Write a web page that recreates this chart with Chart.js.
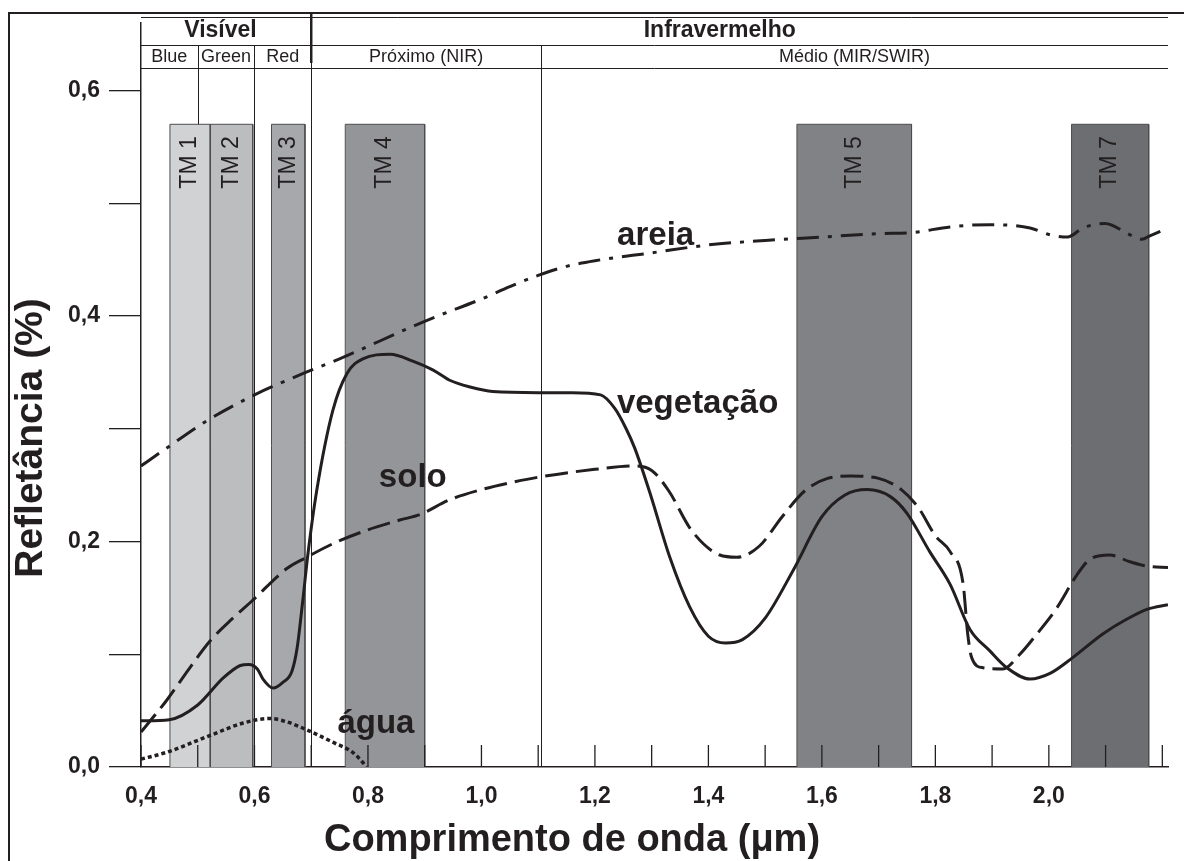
<!DOCTYPE html>
<html>
<head>
<meta charset="utf-8">
<script src="https://cdn.jsdelivr.net/npm/chart.js@4.4.1/dist/chart.umd.min.js"></script>
<style>
  html, body { margin: 0; padding: 0; background: #fff; }
  canvas { display: block; }
</style>
</head>
<body>
<canvas id="spectraCanvas" width="1184" height="861"></canvas>
<script>
// wavelength (um) / reflectance values
const vegX = [0.40, 0.45, 0.50, 0.545, 0.575, 0.59, 0.605, 0.615, 0.633, 0.65, 0.666, 0.675, 0.685, 0.694, 0.71, 0.738, 0.763, 0.791, 0.839, 0.879, 0.915, 0.944, 0.98, 1.02, 1.10, 1.16, 1.21, 1.235, 1.255, 1.27, 1.297, 1.332, 1.367, 1.40, 1.43, 1.46, 1.50, 1.55, 1.60, 1.64, 1.68, 1.72, 1.75, 1.79, 1.826, 1.861, 1.896, 1.926, 1.967, 2.002, 2.042, 2.095, 2.137, 2.174, 2.21];
const vegY = [0.041, 0.042, 0.055, 0.079, 0.090, 0.091, 0.087, 0.078, 0.070, 0.075, 0.085, 0.105, 0.147, 0.188, 0.246, 0.316, 0.349, 0.362, 0.366, 0.360, 0.352, 0.343, 0.337, 0.333, 0.332, 0.332, 0.330, 0.318, 0.300, 0.283, 0.243, 0.186, 0.142, 0.116, 0.110, 0.113, 0.132, 0.175, 0.222, 0.241, 0.246, 0.240, 0.225, 0.191, 0.162, 0.122, 0.103, 0.088, 0.078, 0.083, 0.097, 0.118, 0.131, 0.140, 0.144];

const soloX = [0.40, 0.445, 0.486, 0.522, 0.562, 0.595, 0.657, 0.692, 0.738, 0.798, 0.856, 0.892, 0.944, 1.00, 1.05, 1.10, 1.20, 1.27, 1.30, 1.33, 1.37, 1.42, 1.45, 1.49, 1.53, 1.57, 1.61, 1.65, 1.70, 1.74, 1.77, 1.80, 1.826, 1.849, 1.857, 1.864, 1.884, 1.919, 1.949, 1.979, 2.014, 2.049, 2.072, 2.107, 2.143, 2.174, 2.21];
const soloY = [0.031, 0.059, 0.088, 0.112, 0.132, 0.147, 0.176, 0.186, 0.198, 0.210, 0.219, 0.224, 0.237, 0.246, 0.252, 0.257, 0.264, 0.267, 0.263, 0.245, 0.210, 0.188, 0.186, 0.196, 0.222, 0.245, 0.256, 0.258, 0.256, 0.246, 0.230, 0.205, 0.191, 0.162, 0.118, 0.097, 0.088, 0.087, 0.100, 0.118, 0.141, 0.170, 0.184, 0.188, 0.182, 0.178, 0.177];

const areiaX = [0.40, 0.44, 0.516, 0.60, 0.686, 0.75, 0.88, 0.923, 1.00, 1.05, 1.10, 1.15, 1.20, 1.30, 1.40, 1.50, 1.60, 1.70, 1.76, 1.826, 1.896, 1.967, 2.002, 2.033, 2.06, 2.099, 2.143, 2.164, 2.178, 2.21];
const areiaY = [0.267, 0.281, 0.307, 0.330, 0.349, 0.362, 0.391, 0.400, 0.415, 0.426, 0.436, 0.444, 0.449, 0.456, 0.463, 0.467, 0.470, 0.473, 0.474, 0.479, 0.481, 0.478, 0.472, 0.470, 0.478, 0.482, 0.472, 0.468, 0.471, 0.478];

const aguaX = [0.40, 0.445, 0.522, 0.58, 0.627, 0.657, 0.692, 0.738, 0.773, 0.791, 0.797];
const aguaY = [0.007, 0.013, 0.028, 0.039, 0.043, 0.040, 0.033, 0.022, 0.013, 0.004, 0.0];

// Landsat TM bands
const tmNames = ['TM 1', 'TM 2', 'TM 3', 'TM 4', 'TM 5', 'TM 7'];
const tmStart = [0.451, 0.522, 0.63, 0.76, 1.556, 2.04];
const tmEnd = [0.522, 0.597, 0.689, 0.90, 1.758, 2.176];
const tmColors = ['#d1d2d4', '#bbbdbf', '#a6a8ab', '#939598', '#808285', '#6d6e71'];
const tmTop = 0.57;

// spectral regions in the header
const subNames = ['Blue', 'Green', 'Red', 'Próximo (NIR)', 'Médio (MIR/SWIR)'];
const subStart = [0.4, 0.5, 0.6, 0.7, 1.105];
const subEnd = [0.5, 0.6, 0.7, 1.105, 2.21];
const mainNames = ['Visível', 'Infravermelho'];
const mainCenter = [0.54, 1.42];

const xTickValues = [0.4, 0.5, 0.6, 0.7, 0.8, 0.9, 1.0, 1.1, 1.2, 1.3, 1.4, 1.5, 1.6, 1.7, 1.8, 1.9, 2.0, 2.1, 2.2];
const xLabelValues = [0.4, 0.6, 0.8, 1.0, 1.2, 1.4, 1.6, 1.8, 2.0];
const yTickValues = [0, 0.1, 0.2, 0.3, 0.4, 0.5, 0.6];
const yLabelValues = [0, 0.2, 0.4, 0.6];

// curve labels: [text, x, y]
const curveLabels = [
    ['areia', 1.307, 0.471],
    ['vegetação', 1.381, 0.322],
    ['solo', 0.879, 0.256],
    ['água', 0.814, 0.038]
];

const INK = '#231f20';
const FONT = '"Liberation Sans", Arial, Helvetica, sans-serif';

function toPairs(xs, ys) {
    return xs.map((x, i) => ({ x: x, y: ys[i] }));
}

function fmt(v) {
    return v.toFixed(1).replace('.', ',');
}

function inList(list, v) {
    return list.some(t => Math.abs(t - v) < 1e-6);
}

const curveBase = {
    borderColor: INK,
    borderWidth: 3,
    pointRadius: 0,
    fill: false,
    cubicInterpolationMode: 'monotone',
    order: 0
};

const datasets = [
    Object.assign({}, curveBase, { label: 'vegetação', data: toPairs(vegX, vegY) }),
    Object.assign({}, curveBase, { label: 'solo', data: toPairs(soloX, soloY), borderDash: [23, 8] }),
    Object.assign({}, curveBase, { label: 'areia', data: toPairs(areiaX, areiaY), borderDash: [22, 9, 4, 9] }),
    Object.assign({}, curveBase, { label: 'água', data: toPairs(aguaX, aguaY), borderDash: [4, 3], borderWidth: 3.5, borderCapStyle: 'butt' })
];

// bands as filled rectangles through the scales
tmNames.forEach((name, i) => {
    datasets.push({
        label: name,
        data: [
            { x: tmStart[i], y: 0 },
            { x: tmStart[i], y: tmTop },
            { x: tmEnd[i], y: tmTop },
            { x: tmEnd[i], y: 0 }
        ],
        backgroundColor: tmColors[i],
        borderColor: '#4d4d4f',
        borderWidth: 1,
        pointRadius: 0,
        tension: 0,
        fill: 'origin',
        order: 10
    });
});

const decorPlugin = {
    id: 'decor',
    beforeDatasetsDraw(chart) {
        const ctx = chart.ctx;
        const xs = chart.scales.x;
        const area = chart.chartArea;
        ctx.save();
        ctx.strokeStyle = INK;

        // outer frame
        ctx.lineWidth = 2;
        ctx.beginPath();
        ctx.moveTo(9, 870);
        ctx.lineTo(9, 13);
        ctx.lineTo(1184, 13);
        ctx.stroke();

        // header rows
        const right = xs.getPixelForValue(2.21);
        ctx.lineWidth = 1;
        [17.5, 45.5, 68.5].forEach(y => {
            ctx.beginPath();
            ctx.moveTo(area.left, y);
            ctx.lineTo(right, y);
            ctx.stroke();
        });

        // thin region dividers
        subStart.slice(1).forEach(v => {
            const px = Math.round(xs.getPixelForValue(v)) + 0.5;
            ctx.beginPath();
            ctx.moveTo(px, 45);
            ctx.lineTo(px, area.bottom);
            ctx.stroke();
        });

        // visible / infrared divider
        const px7 = xs.getPixelForValue(0.7);
        ctx.lineWidth = 2.5;
        ctx.beginPath();
        ctx.moveTo(px7, 14);
        ctx.lineTo(px7, 63);
        ctx.stroke();
        ctx.restore();
    },
    afterDatasetsDraw(chart) {
        const ctx = chart.ctx;
        const xs = chart.scales.x;
        const ys = chart.scales.y;
        const area = chart.chartArea;
        ctx.save();

        // x tick marks pointing inward
        ctx.strokeStyle = INK;
        ctx.lineWidth = 1.3;
        xTickValues.forEach(v => {
            const px = xs.getPixelForValue(v);
            ctx.beginPath();
            ctx.moveTo(px, area.bottom);
            ctx.lineTo(px, area.bottom - 22);
            ctx.stroke();
        });

        // band names
        ctx.fillStyle = INK;
        ctx.font = '23px ' + FONT;
        ctx.textAlign = 'right';
        ctx.textBaseline = 'middle';
        tmNames.forEach((name, i) => {
            const cx = xs.getPixelForValue((tmStart[i] + tmEnd[i]) / 2);
            ctx.save();
            ctx.translate(cx, ys.getPixelForValue(tmTop) + 12);
            ctx.rotate(-Math.PI / 2);
            ctx.fillText(name, 0, 0);
            ctx.restore();
        });

        // curve names
        ctx.font = 'bold 33px ' + FONT;
        ctx.textAlign = 'center';
        ctx.textBaseline = 'middle';
        curveLabels.forEach(l => {
            ctx.fillText(l[0], xs.getPixelForValue(l[1]), ys.getPixelForValue(l[2]));
        });

        // header text
        ctx.font = 'bold 23px ' + FONT;
        mainNames.forEach((name, i) => {
            ctx.fillText(name, xs.getPixelForValue(mainCenter[i]), 31);
        });
        ctx.font = '18px ' + FONT;
        subNames.forEach((name, i) => {
            ctx.fillText(name, xs.getPixelForValue((subStart[i] + subEnd[i]) / 2), 57);
        });

        // axis titles
        ctx.font = 'bold 38px ' + FONT;
        ctx.fillText('Comprimento de onda (μm)', 572, 841);
        ctx.save();
        ctx.font = 'bold 39px ' + FONT;
        ctx.translate(31, 438);
        ctx.rotate(-Math.PI / 2);
        ctx.fillText('Refletância (%)', 0, 0);
        ctx.restore();

        ctx.restore();
    }
};

new Chart(document.getElementById('spectraCanvas'), {
    type: 'line',
    data: { datasets: datasets },
    options: {
        responsive: false,
        animation: false,
        layout: { padding: { left: 0, right: 16, top: 16, bottom: 0 } },
        scales: {
            x: {
                type: 'linear',
                min: 0.4,
                max: 2.21,
                afterBuildTicks: axis => { axis.ticks = xTickValues.map(v => ({ value: v })); },
                afterFit: axis => { axis.height = 94; },
                grid: { drawOnChartArea: false, drawTicks: false },
                border: { display: true, color: INK, width: 1.5 },
                ticks: {
                    padding: 16,
                    color: INK,
                    font: { family: FONT, size: 23, weight: 'bold' },
                    maxRotation: 0,
                    autoSkip: false,
                    callback: v => inList(xLabelValues, v) ? fmt(v) : ''
                }
            },
            y: {
                type: 'linear',
                min: 0,
                max: 0.66,
                afterBuildTicks: axis => { axis.ticks = yTickValues.map(v => ({ value: v })); },
                afterFit: axis => { axis.width = 141; },
                grid: { drawOnChartArea: false, drawTicks: true, tickLength: 32, color: INK, lineWidth: 1.3 },
                border: { display: true, color: INK, width: 1.5 },
                ticks: {
                    padding: 9,
                    color: INK,
                    font: { family: FONT, size: 23, weight: 'bold' },
                    autoSkip: false,
                    callback: v => inList(yLabelValues, v) ? fmt(v) : ''
                }
            }
        },
        plugins: {
            legend: { display: false },
            tooltip: { enabled: false }
        }
    },
    plugins: [decorPlugin]
});
</script>
</body>
</html>
